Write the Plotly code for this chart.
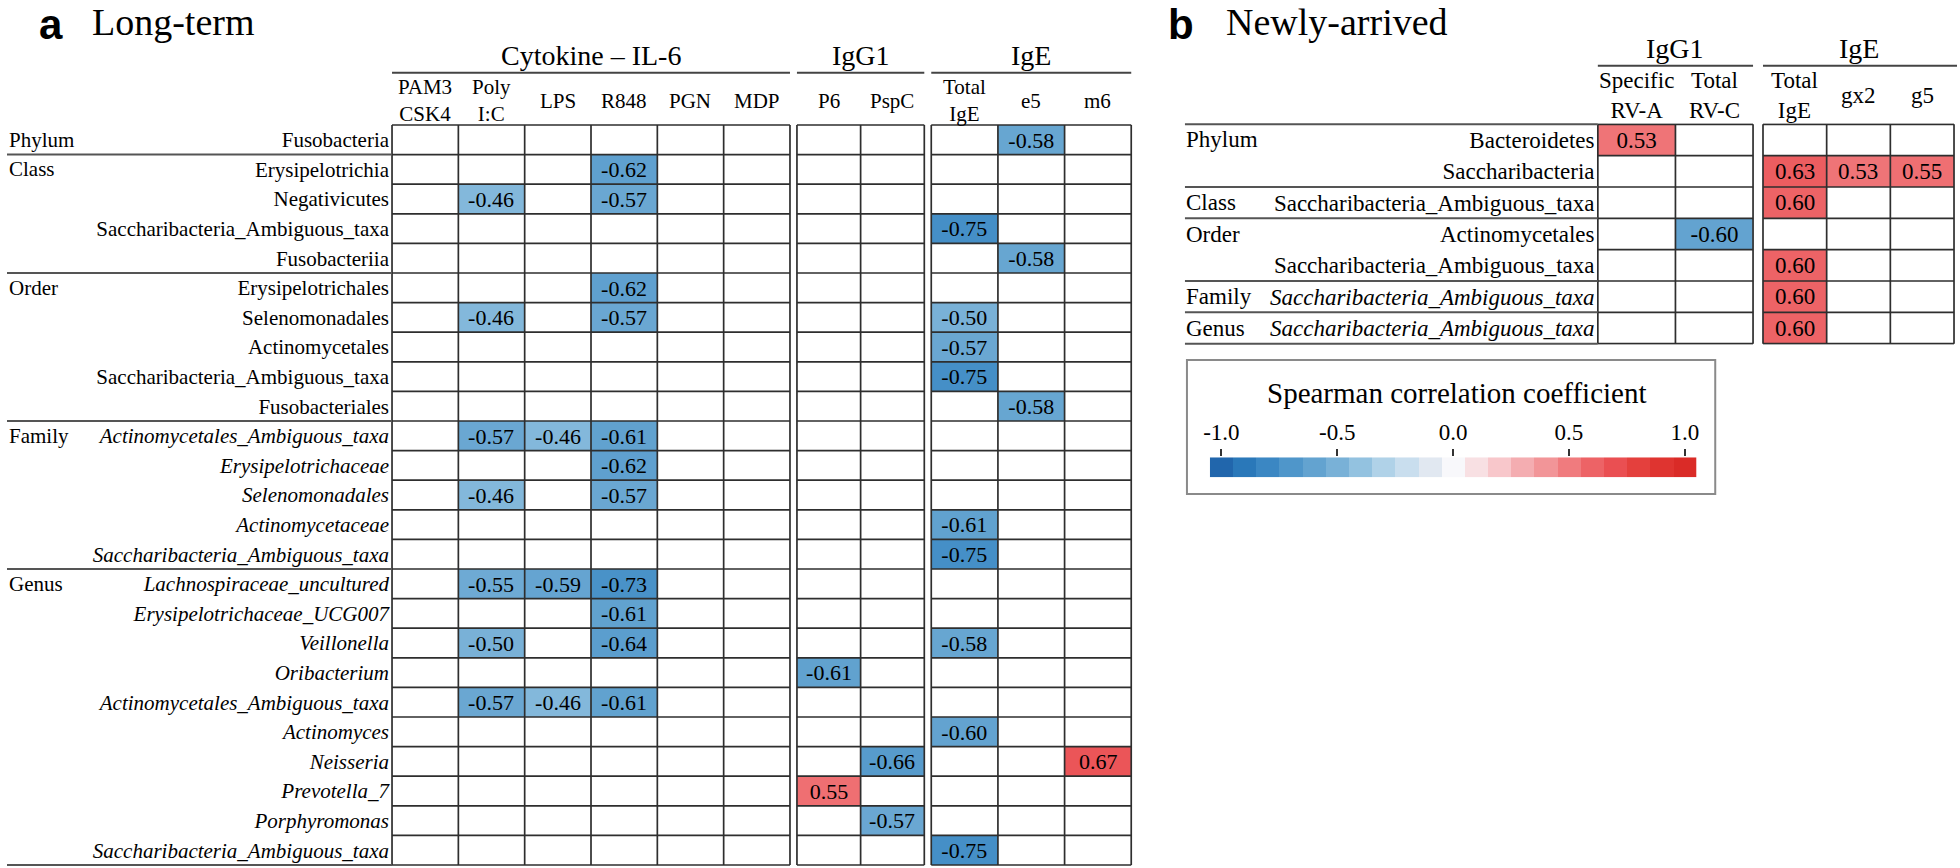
import plotly.graph_objects as go

N = None

# ---------------- data : panel a (Long-term) ----------------
il6_cols_a = ["PAM3<br>CSK4", "Poly<br>I:C", "LPS", "R848", "PGN", "MDP"]
igg1_cols_a = ["P6", "PspC"]
ige_cols_a = ["Total<br>IgE", "e5", "m6"]

rank_groups_a = [("Phylum", 1), ("Class", 4), ("Order", 5), ("Family", 5), ("Genus", 10)]
taxa_a = [
    "Fusobacteria",
    "Erysipelotrichia", "Negativicutes", "Saccharibacteria_Ambiguous_taxa", "Fusobacteriia",
    "Erysipelotrichales", "Selenomonadales", "Actinomycetales", "Saccharibacteria_Ambiguous_taxa", "Fusobacteriales",
    "Actinomycetales_Ambiguous_taxa", "Erysipelotrichaceae", "Selenomonadales", "Actinomycetaceae",
    "Saccharibacteria_Ambiguous_taxa",
    "Lachnospiraceae_uncultured", "Erysipelotrichaceae_UCG007", "Veillonella", "Oribacterium",
    "Actinomycetales_Ambiguous_taxa", "Actinomyces", "Neisseria", "Prevotella_7", "Porphyromonas",
    "Saccharibacteria_Ambiguous_taxa",
]

il6_a = [
    [N, N, N, N, N, N],
    [N, N, N, -0.62, N, N],
    [N, -0.46, N, -0.57, N, N],
    [N, N, N, N, N, N],
    [N, N, N, N, N, N],
    [N, N, N, -0.62, N, N],
    [N, -0.46, N, -0.57, N, N],
    [N, N, N, N, N, N],
    [N, N, N, N, N, N],
    [N, N, N, N, N, N],
    [N, -0.57, -0.46, -0.61, N, N],
    [N, N, N, -0.62, N, N],
    [N, -0.46, N, -0.57, N, N],
    [N, N, N, N, N, N],
    [N, N, N, N, N, N],
    [N, -0.55, -0.59, -0.73, N, N],
    [N, N, N, -0.61, N, N],
    [N, -0.50, N, -0.64, N, N],
    [N, N, N, N, N, N],
    [N, -0.57, -0.46, -0.61, N, N],
    [N, N, N, N, N, N],
    [N, N, N, N, N, N],
    [N, N, N, N, N, N],
    [N, N, N, N, N, N],
    [N, N, N, N, N, N],
]
igg1_a = [
    [N, N], [N, N], [N, N], [N, N], [N, N],
    [N, N], [N, N], [N, N], [N, N], [N, N],
    [N, N], [N, N], [N, N], [N, N], [N, N],
    [N, N], [N, N], [N, N], [-0.61, N], [N, N],
    [N, N], [N, -0.66], [0.55, N], [N, -0.57], [N, N],
]
ige_a = [
    [N, -0.58, N],
    [N, N, N],
    [N, N, N],
    [-0.75, N, N],
    [N, -0.58, N],
    [N, N, N],
    [-0.50, N, N],
    [-0.57, N, N],
    [-0.75, N, N],
    [N, -0.58, N],
    [N, N, N],
    [N, N, N],
    [N, N, N],
    [-0.61, N, N],
    [-0.75, N, N],
    [N, N, N],
    [N, N, N],
    [-0.58, N, N],
    [N, N, N],
    [N, N, N],
    [-0.60, N, N],
    [N, N, 0.67],
    [N, N, N],
    [N, N, N],
    [-0.75, N, N],
]

# ---------------- data : panel b (Newly-arrived) ----------------
igg1_cols_b = ["Specific<br>RV-A", "Total<br>RV-C"]
ige_cols_b = ["Total<br>IgE", "gx2", "g5"]
rank_groups_b = [("Phylum", 2), ("Class", 1), ("Order", 2), ("Family", 1), ("Genus", 1)]
taxa_b = [
    "Bacteroidetes", "Saccharibacteria",
    "Saccharibacteria_Ambiguous_taxa",
    "Actinomycetales", "Saccharibacteria_Ambiguous_taxa",
    "Saccharibacteria_Ambiguous_taxa",
    "Saccharibacteria_Ambiguous_taxa",
]
igg1_b = [
    [0.53, N],
    [N, N],
    [N, N],
    [N, -0.60],
    [N, N],
    [N, N],
    [N, N],
]
ige_b = [
    [N, N, N],
    [0.63, 0.53, 0.55],
    [0.60, N, N],
    [N, N, N],
    [0.60, N, N],
    [0.60, N, N],
    [0.60, N, N],
]

# ---------------- colour scale ----------------
legend_vals = [round(-1.0 + 0.1 * i, 1) for i in range(21)]
legend_ticks = [-1.0, -0.5, 0.0, 0.5, 1.0]
scale_colors = [
    "#2166ac", "#2a78b9", "#3b87c3", "#4f96ca", "#63a3d0", "#79b1d7", "#93c2e0",
    "#b0d2e8", "#c9deee", "#e1e8f1", "#f8f8fb",
    "#f8e0e3", "#f8c7cb", "#f4adb1", "#f29598", "#f07b7e", "#ed6366",
    "#ea4f52", "#e4403d", "#df3430", "#da2b27",
]
colorscale = [[(v + 1) / 2, c] for v, c in zip(legend_vals, scale_colors)]

# ---------------- layout constants ----------------
W, H = 1960, 868
SERIF = "Liberation Serif, Times New Roman, serif"
SANS = "Liberation Sans, Arial, sans-serif"
PAD = 0.03
GRID_COLOR = "#2e2e2e"
GROUP_COLOR = "#555555"

blocks = [
    dict(cols=il6_cols_a, z=il6_a, L=387, R=787, T=125, B=865, title="Cytokine – IL-6",
         labels=taxa_a, groups=rank_groups_a, title_y=55.5, line_y=72.7, head_y=100.5,
         head_fs=21, val_fs=22, lab_fs=21),
    dict(cols=igg1_cols_a, z=igg1_a, L=794, R=922, T=125, B=865, title="IgG1",
         labels=None, title_y=55.5, line_y=72.7, head_y=100.5, head_fs=21, val_fs=22),
    dict(cols=ige_cols_a, z=ige_a, L=929, R=1130, T=125, B=865, title="IgE",
         labels=None, title_y=55.5, line_y=72.7, head_y=100.5, head_fs=21, val_fs=22),
    dict(cols=igg1_cols_b, z=igg1_b, L=1599, R=1755, T=124.3, B=343.7, title="IgG1",
         labels=taxa_b, groups=rank_groups_b, title_y=49, line_y=65.7, head_y=96,
         head_fs=23, val_fs=23, lab_fs=23),
    dict(cols=ige_cols_b, z=ige_b, L=1765, R=1957, T=124.3, B=343.7, title="IgE",
         labels=None, title_y=49, line_y=65.7, head_y=96, head_fs=23, val_fs=23),
]
label_area = {0: dict(left=0, cat_x=0, top_line=False),
              3: dict(left=1184, cat_x=1183, top_line=True)}


def px_x(v):
    return min(max(v / W, 0.0), 1.0)


def px_y(v):
    return min(max(1 - v / H, 0.0), 1.0)


fig = go.Figure()
layout = dict(width=W, height=H, margin=dict(l=0, r=0, t=0, b=0),
              paper_bgcolor="white", plot_bgcolor="white", showlegend=False)
shapes, annotations = [], []

for k, b in enumerate(blocks):
    idx = "" if k == 0 else str(k + 1)
    xa, ya = "x" + idx, "y" + idx
    nc, nr = len(b["cols"]), len(b["z"])
    cw, rh = (b["R"] - b["L"]) / nc, (b["B"] - b["T"]) / nr
    text = [["" if v is None else f"{v:.2f}" for v in row] for row in b["z"]]
    fig.add_trace(go.Heatmap(
        z=b["z"], x=list(range(nc)), y=list(range(nr)), text=text, texttemplate="%{text}",
        textfont=dict(family=SERIF, size=b["val_fs"], color="black"),
        colorscale=colorscale, zmin=-1, zmax=1, showscale=False, hoverinfo="skip",
        xaxis=xa, yaxis=ya,
    ))
    layout["xaxis" + idx] = dict(
        domain=[px_x(b["L"] - PAD * cw), px_x(b["R"] + PAD * cw)],
        range=[-0.5 - PAD, nc - 0.5 + PAD], anchor=ya, showgrid=False, zeroline=False,
        showticklabels=False, ticks="", fixedrange=True)
    yax = dict(
        domain=[px_y(b["B"] + PAD * rh), px_y(b["T"] - PAD * rh)],
        range=[nr - 0.5 + PAD, -0.5 - PAD], anchor=xa, showgrid=False, zeroline=False,
        ticks="", fixedrange=True, showticklabels=False)
    if b["labels"] is not None:
        italic_rows = []
        for name, cnt in b["groups"]:
            italic_rows += [name in ("Family", "Genus")] * cnt
        yax.update(showticklabels=True, tickmode="array", tickvals=list(range(nr)),
                   ticktext=[f"<i>{t}</i>" if it else t for t, it in zip(b["labels"], italic_rows)],
                   tickfont=dict(family=SERIF, size=b["lab_fs"], color="black"),
                   ticklabelstandoff=0)
    layout["yaxis" + idx] = yax

    # grid lines
    for j in range(nc + 1):
        shapes.append(dict(type="line", xref=xa, yref=ya, x0=j - 0.5, x1=j - 0.5,
                           y0=-0.5, y1=nr - 0.5, line=dict(color=GRID_COLOR, width=1.7)))
    for i in range(nr + 1):
        shapes.append(dict(type="line", xref=xa, yref=ya, x0=-0.5, x1=nc - 0.5,
                           y0=i - 0.5, y1=i - 0.5, line=dict(color=GRID_COLOR, width=1.7)))

    # group header line + title
    shapes.append(dict(type="line", xref="paper", yref="paper", x0=px_x(b["L"]),
                       x1=px_x(b["R"] + 3 if k == 4 else b["R"]),
                       y0=px_y(b["line_y"]), y1=px_y(b["line_y"]),
                       line=dict(color="#444444", width=2)))
    annotations.append(dict(text=b["title"], xref="paper", yref="paper",
                            x=px_x((b["L"] + b["R"]) / 2), y=px_y(b["title_y"]),
                            xanchor="center", yanchor="middle", showarrow=False,
                            font=dict(family=SERIF, size=28, color="black")))
    # column headers
    for j, c in enumerate(b["cols"]):
        annotations.append(dict(text=c, xref=xa, yref="paper", x=j, y=px_y(b["head_y"]),
                                xanchor="center", yanchor="middle", showarrow=False, align="center",
                                font=dict(family=SERIF, size=b["head_fs"], color="black")))

    # label area: rank names and group separators
    if b["labels"] is not None:
        la = label_area[k]
        start = 0
        bounds = [0] if la["top_line"] else []
        for name, cnt in b["groups"]:
            annotations.append(dict(text=name, xref="paper", yref="paper", x=px_x(la["cat_x"]),
                                    y=px_y(b["T"] + (start + 0.5) * rh), xanchor="left",
                                    yanchor="middle", showarrow=False,
                                    font=dict(family=SERIF, size=b["lab_fs"], color="black")))
            start += cnt
            bounds.append(start)
        for bd in bounds:
            yy = px_y(b["T"] + bd * rh)
            shapes.append(dict(type="line", xref="paper", yref="paper", x0=px_x(la["left"]),
                               x1=px_x(b["L"]), y0=yy, y1=yy,
                               line=dict(color=GROUP_COLOR, width=2)))

# ---------------- panel titles ----------------
for letter, lx, title, tx in [("a", 31, "Long-term", 84), ("b", 1166, "Newly-arrived", 1224)]:
    annotations.append(dict(text=f"<b>{letter}</b>", xref="paper", yref="paper", x=px_x(lx),
                            y=1, xanchor="left", yanchor="top", showarrow=False, borderpad=0,
                            font=dict(family=SANS, size=42, color="black")))
    annotations.append(dict(text=title, xref="paper", yref="paper", x=px_x(tx), y=1,
                            xanchor="left", yanchor="top", showarrow=False, borderpad=0,
                            font=dict(family=SERIF, size=38, color="black")))

# ---------------- colour legend ----------------
fig.add_trace(go.Heatmap(
    z=[legend_vals], x=legend_vals, y=[0], colorscale=colorscale, zmin=-1, zmax=1,
    showscale=False, hoverinfo="skip", xaxis="x6", yaxis="y6"))
layout["xaxis6"] = dict(domain=[px_x(1209), px_x(1698)], range=[-1.05, 1.05], anchor="y6",
                        side="top", tickmode="array", tickvals=legend_ticks,
                        ticktext=[f"{v:.1f}" for v in legend_ticks], ticks="outside", ticklen=7,
                        tickwidth=1.5, tickcolor="#333333", showgrid=False, zeroline=False,
                        showline=False, fixedrange=True,
                        tickfont=dict(family=SERIF, size=23, color="black"))
layout["yaxis6"] = dict(domain=[px_y(477.3), px_y(457.3)], range=[-0.5, 0.5], anchor="x6",
                        showticklabels=False, showgrid=False, zeroline=False, ticks="",
                        fixedrange=True)
shapes.append(dict(type="rect", xref="paper", yref="paper", x0=px_x(1186), x1=px_x(1717),
                   y0=px_y(494), y1=px_y(360), line=dict(color="#8a8a8a", width=2)))
annotations.append(dict(text="Spearman correlation coefficient", xref="paper", yref="paper",
                        x=px_x(1457), y=px_y(393), xanchor="center", yanchor="middle",
                        showarrow=False, font=dict(family=SERIF, size=29, color="black")))

layout["shapes"] = shapes
layout["annotations"] = annotations
fig.update_layout(**layout)
fig.write_html("out.html", config={"displayModeBar": False},
               post_script="document.body.style.margin='0';document.body.style.overflow='hidden';")
